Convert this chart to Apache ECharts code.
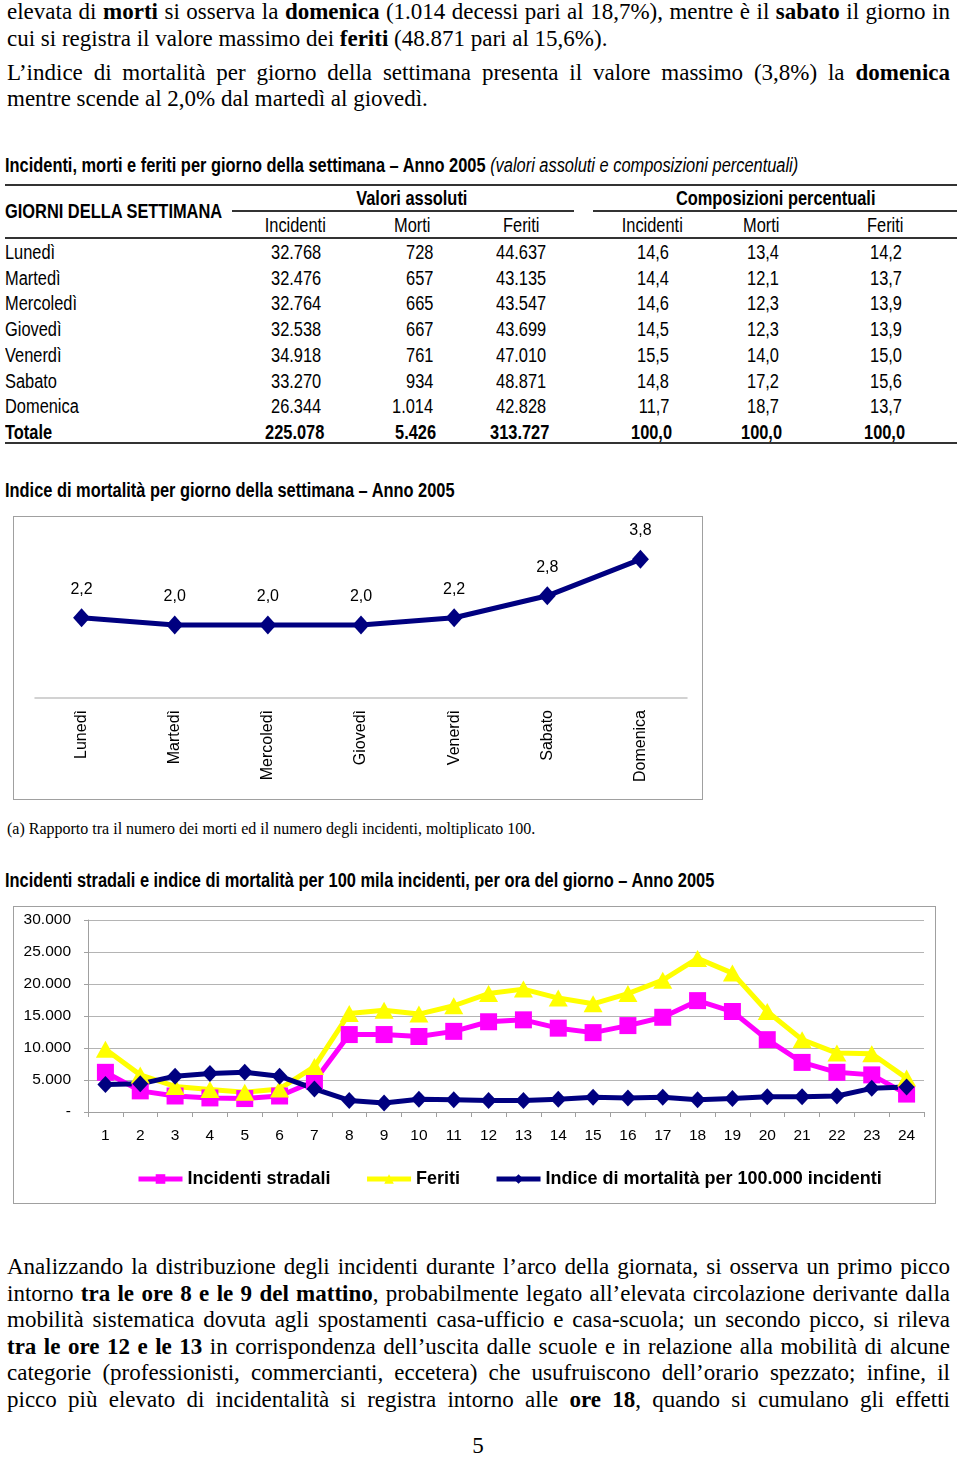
<!DOCTYPE html>
<html><head><meta charset="utf-8">
<script src="https://cdn.jsdelivr.net/npm/echarts@6/dist/echarts.min.js"></script>
<style>
html,body{margin:0;padding:0;background:#fff;}
#page{position:relative;width:960px;height:1457px;overflow:hidden;background:#fff;}
.t{position:absolute;color:#000;}
.serif{font-family:'Liberation Serif','Times New Roman',serif;}
.narrow{font-family:'Liberation Sans',Arial,sans-serif;}
.narrow > span{display:inline-block;transform:scaleX(0.82);white-space:nowrap;}
.just{text-align:justify;text-align-last:justify;}
.rule{position:absolute;background:#333;}
.chartbox{position:absolute;border:1px solid #a0a0a0;box-sizing:border-box;background:#fff;}
</style></head>
<body><div id="page"></div>
<script>
// ---------- DATA ----------
const days = ['Lunedì','Martedì','Mercoledì','Giovedì','Venerdì','Sabato','Domenica'];
const incidenti = [32768, 32476, 32764, 32538, 34918, 33270, 26344];
const morti = [728, 657, 665, 667, 761, 934, 1014];
const feriti = [44637, 43135, 43547, 43699, 47010, 48871, 42828];
const totali = [225078, 5426, 313727];
const pctIncidenti = [14.6, 14.4, 14.6, 14.5, 15.5, 14.8, 11.7];
const pctMorti = [13.4, 12.1, 12.3, 12.3, 14.0, 17.2, 18.7];
const pctFeriti = [14.2, 13.7, 13.9, 13.9, 15.0, 15.6, 13.7];
const pctTotali = [100.0, 100.0, 100.0];

const dayLabels = ['Lunedì','Martedì','Mercoledì','Giovedì','Venerdì','Sabato','Domenica'];
const indiceMortalita = [2.2, 2.0, 2.0, 2.0, 2.2, 2.8, 3.8];

const ore = ['1','2','3','4','5','6','7','8','9','10','11','12','13','14','15','16','17','18','19','20','21','22','23','24'];
const incidentiOra = [6200, 3300, 2500, 2200, 2100, 2500, 4800, 12100, 12100, 11800, 12600, 14100, 14400, 13100, 12400, 13500, 14800, 17400, 15700, 11300, 7750, 6200, 5800, 2800];
const feritiOra = [9800, 5800, 4000, 3500, 3100, 3600, 7100, 15400, 15900, 15300, 16600, 18500, 19200, 17800, 16900, 18500, 20600, 24000, 21700, 15700, 11300, 9200, 9100, 5300];
const mortalitaOra = [4300, 4400, 5600, 6000, 6200, 5600, 3600, 1800, 1400, 2000, 1900, 1800, 1800, 2000, 2300, 2200, 2300, 1900, 2100, 2400, 2400, 2500, 3700, 3900];
const yTicks2 = [0, 5000, 10000, 15000, 20000, 25000, 30000];

// ---------- helpers ----------
const page = document.getElementById('page');
const fmtInt = n => String(n).replace(/\B(?=(\d{3})+(?!\d))/g, '.');
const fmtDec = n => n.toFixed(1).replace('.', ',');
function txt(html, o){
  const d = document.createElement('div');
  const narrow = (o.cls || '').indexOf('narrow') >= 0;
  d.className = 't ' + (o.cls || '');
  const fs = o.fs || 20, lh = o.lh || Math.round(fs*1.3);
  d.style.fontSize = fs + 'px';
  d.style.lineHeight = lh + 'px';
  d.style.top = (o.yc - lh/2) + 'px';
  let origin = 'left center';
  if (o.right !== undefined){ d.style.left = (o.right - 300) + 'px'; d.style.width = '300px'; d.style.textAlign='right'; d.style.whiteSpace='nowrap'; origin='right center'; }
  else if (o.center !== undefined){ d.style.left = (o.center - 300) + 'px'; d.style.width = '600px'; d.style.textAlign='center'; d.style.whiteSpace='nowrap'; origin='center center'; }
  else { d.style.left = o.x + 'px'; if (o.w) d.style.width = o.w + 'px'; else d.style.whiteSpace='nowrap'; }
  if (o.bold) d.style.fontWeight = 'bold';
  if (narrow){
    const s = document.createElement('span');
    s.style.transformOrigin = origin;
    s.innerHTML = html; d.appendChild(s);
  } else d.innerHTML = html;
  page.appendChild(d);
  return d;
}
function rule(x1, x2, y, h){
  const d = document.createElement('div'); d.className='rule';
  d.style.left = x1+'px'; d.style.width=(x2-x1)+'px'; d.style.top=(y - h/2)+'px'; d.style.height=h+'px';
  page.appendChild(d);
}

// ---------- top text ----------
const SERIF_FS = 23;
const topLines = [
  ['elevata di <b>morti</b> si osserva la <b>domenica</b> (1.014 decessi pari al 18,7%), mentre è il <b>sabato</b> il giorno in', 12, true],
  ['cui si registra il valore massimo dei <b>feriti</b> (48.871 pari al 15,6%).', 39, false],
  ['L’indice di mortalità per giorno della settimana presenta il valore massimo (3,8%) la <b>domenica</b>', 73, true],
  ['mentre scende al 2,0% dal martedì al giovedì.', 99, false]
];
topLines.forEach(l => txt(l[0], {cls:'serif' + (l[2]?' just':''), fs:SERIF_FS, lh:26, yc:l[1], x:7, w: l[2]?943:undefined}));

const botLines = [
  'Analizzando la distribuzione degli incidenti durante l’arco della giornata, si osserva un primo picco',
  'intorno <b>tra le ore 8 e le 9 del mattino</b>, probabilmente legato all’elevata circolazione derivante dalla',
  'mobilità sistematica dovuta agli spostamenti casa-ufficio e casa-scuola; un secondo picco, si rileva',
  '<b>tra le ore 12 e le 13</b> in corrispondenza dell’uscita dalle scuole e in relazione alla mobilità di alcune',
  'categorie (professionisti, commercianti, eccetera) che usufruiscono dell’orario spezzato; infine, il',
  'picco più elevato di incidentalità si registra intorno alle <b>ore 18</b>, quando si cumulano gli effetti'
];
botLines.forEach((l,i) => txt(l, {cls:'serif just', fs:SERIF_FS, lh:26, yc:1267 + i*26.6, x:7, w:943}));
txt('5', {cls:'serif', fs:SERIF_FS, lh:26, yc:1446, center:478});

// ---------- table ----------
txt('<b>Incidenti, morti e feriti per giorno della settimana – Anno 2005</b> <i>(valori assoluti e composizioni percentuali)</i>', {cls:'narrow', fs:20, lh:24, yc:165, x:5});
rule(5, 957, 185, 2);
txt('GIORNI DELLA SETTIMANA', {cls:'narrow', fs:20, lh:24, yc:211, x:5, bold:true});
txt('Valori assoluti', {cls:'narrow', fs:20, lh:24, yc:198, center:412, bold:true});
txt('Composizioni percentuali', {cls:'narrow', fs:20, lh:24, yc:198, center:776, bold:true});
rule(232, 574, 211, 1.5);
rule(593, 957, 211, 1.5);
const colHead = ['Incidenti','Morti','Feriti','Incidenti','Morti','Feriti'];
const colCenter = [295, 412, 521, 652, 761, 885];
const colRight = [321, 433, 546, 669, 779, 902];
colHead.forEach((h,i) => txt(h, {cls:'narrow', fs:20, lh:24, yc:225, center:colCenter[i]}));
rule(5, 957, 238, 2);
const rowY = i => 252 + i*25.7;
days.forEach((d,i) => {
  const y = rowY(i);
  txt(d, {cls:'narrow', fs:20, lh:24, yc:y, x:5});
  const vals = [fmtInt(incidenti[i]), fmtInt(morti[i]), fmtInt(feriti[i]), fmtDec(pctIncidenti[i]), fmtDec(pctMorti[i]), fmtDec(pctFeriti[i])];
  vals.forEach((v,j) => txt(v, {cls:'narrow', fs:20, lh:24, yc:y, right:colRight[j]}));
});
{
  const y = rowY(7);
  txt('Totale', {cls:'narrow', fs:20, lh:24, yc:y, x:5, bold:true});
  const vals = [fmtInt(totali[0]), fmtInt(totali[1]), fmtInt(totali[2]), fmtDec(pctTotali[0]), fmtDec(pctTotali[1]), fmtDec(pctTotali[2])];
  vals.forEach((v,j) => txt(v, {cls:'narrow', fs:20, lh:24, yc:y, right:colRight[j]+3, bold:true}));
}
rule(5, 957, 443, 2);

// ---------- chart titles / notes ----------
txt('Indice di mortalità per giorno della settimana – Anno 2005', {cls:'narrow', fs:20, lh:24, yc:490, x:5, bold:true});
txt('(a) Rapporto tra il numero dei morti ed il numero degli incidenti, moltiplicato 100.', {cls:'serif', fs:16, lh:18, yc:829, x:7});
txt('Incidenti stradali e indice di mortalità per 100 mila incidenti, per ora del giorno – Anno 2005', {cls:'narrow', fs:20, lh:24, yc:880, x:5, bold:true});

// ---------- chart 1 ----------
function box(l,t,w,h){
  const d = document.createElement('div'); d.className='chartbox';
  d.style.left=l+'px'; d.style.top=t+'px'; d.style.width=w+'px'; d.style.height=h+'px';
  page.appendChild(d); return d;
}
const SANS = "'Liberation Sans', Arial, sans-serif";
const c1 = echarts.init(box(13, 516, 690, 284), null, {renderer:'canvas'});
c1.setOption({
  animation:false,
  grid:{left:21, right:15, top:35, bottom:101},
  xAxis:{type:'category', data:dayLabels, boundaryGap:true,
    axisLine:{lineStyle:{color:'#c4c4c4', width:1.5}}, axisTick:{show:false},
    axisLabel:{rotate:90, margin:12, color:'#000', fontSize:16, fontFamily:SANS}},
  yAxis:{type:'value', min:0, max:4, show:false, splitLine:{show:false}},
  series:[{type:'line', data:indiceMortalita, symbol:'diamond', symbolSize:[17,19],
    lineStyle:{color:'#000080', width:5}, itemStyle:{color:'#000080'},
    label:{show:true, position:'top', distance:11, color:'#000', fontSize:16, fontFamily:SANS,
      formatter:p => fmtDec(p.value)}}]
});

// ---------- chart 2 ----------
const c2 = echarts.init(box(13, 906, 923, 298), null, {renderer:'canvas'});
c2.setOption({
  animation:false,
  grid:{left:74, right:11, top:13, bottom:91},
  legend:{left:117, top:258, itemWidth:44, itemHeight:12, itemGap:34,
    lineStyle:{width:5},
    textStyle:{color:'#000', fontSize:18, fontWeight:'bold', fontFamily:SANS},
    data:['Incidenti stradali','Feriti','Indice di mortalità per 100.000 incidenti']},
  xAxis:{type:'category', data:ore, boundaryGap:true,
    axisLine:{lineStyle:{color:'#a0a0a0'}}, axisTick:{show:true, length:5, lineStyle:{color:'#a0a0a0'}},
    axisLabel:{margin:16, color:'#000', fontSize:15.5, fontFamily:SANS}},
  yAxis:{type:'value', min:yTicks2[0], max:yTicks2[yTicks2.length-1], interval:5000,
    axisLine:{show:true, lineStyle:{color:'#a0a0a0'}}, axisTick:{show:true, length:4, lineStyle:{color:'#a0a0a0'}},
    splitLine:{lineStyle:{color:'#b4b4b4'}},
    axisLabel:{margin:17, color:'#000', fontSize:15.5, fontFamily:SANS,
      formatter:v => v === 0 ? '-' : fmtInt(v)}},
  series:[
    {name:'Incidenti stradali', type:'line', data:incidentiOra, symbol:'rect', symbolSize:17,
      lineStyle:{color:'#ff00ff', width:5}, itemStyle:{color:'#ff00ff'}},
    {name:'Feriti', type:'line', data:feritiOra, symbol:'triangle', symbolSize:[19,17],
      lineStyle:{color:'#ffff00', width:5}, itemStyle:{color:'#ffff00'}},
    {name:'Indice di mortalità per 100.000 incidenti', type:'line', data:mortalitaOra, symbol:'diamond', symbolSize:[16,17],
      lineStyle:{color:'#000080', width:5}, itemStyle:{color:'#000080'}}
  ]
});
</script>
</body></html>
